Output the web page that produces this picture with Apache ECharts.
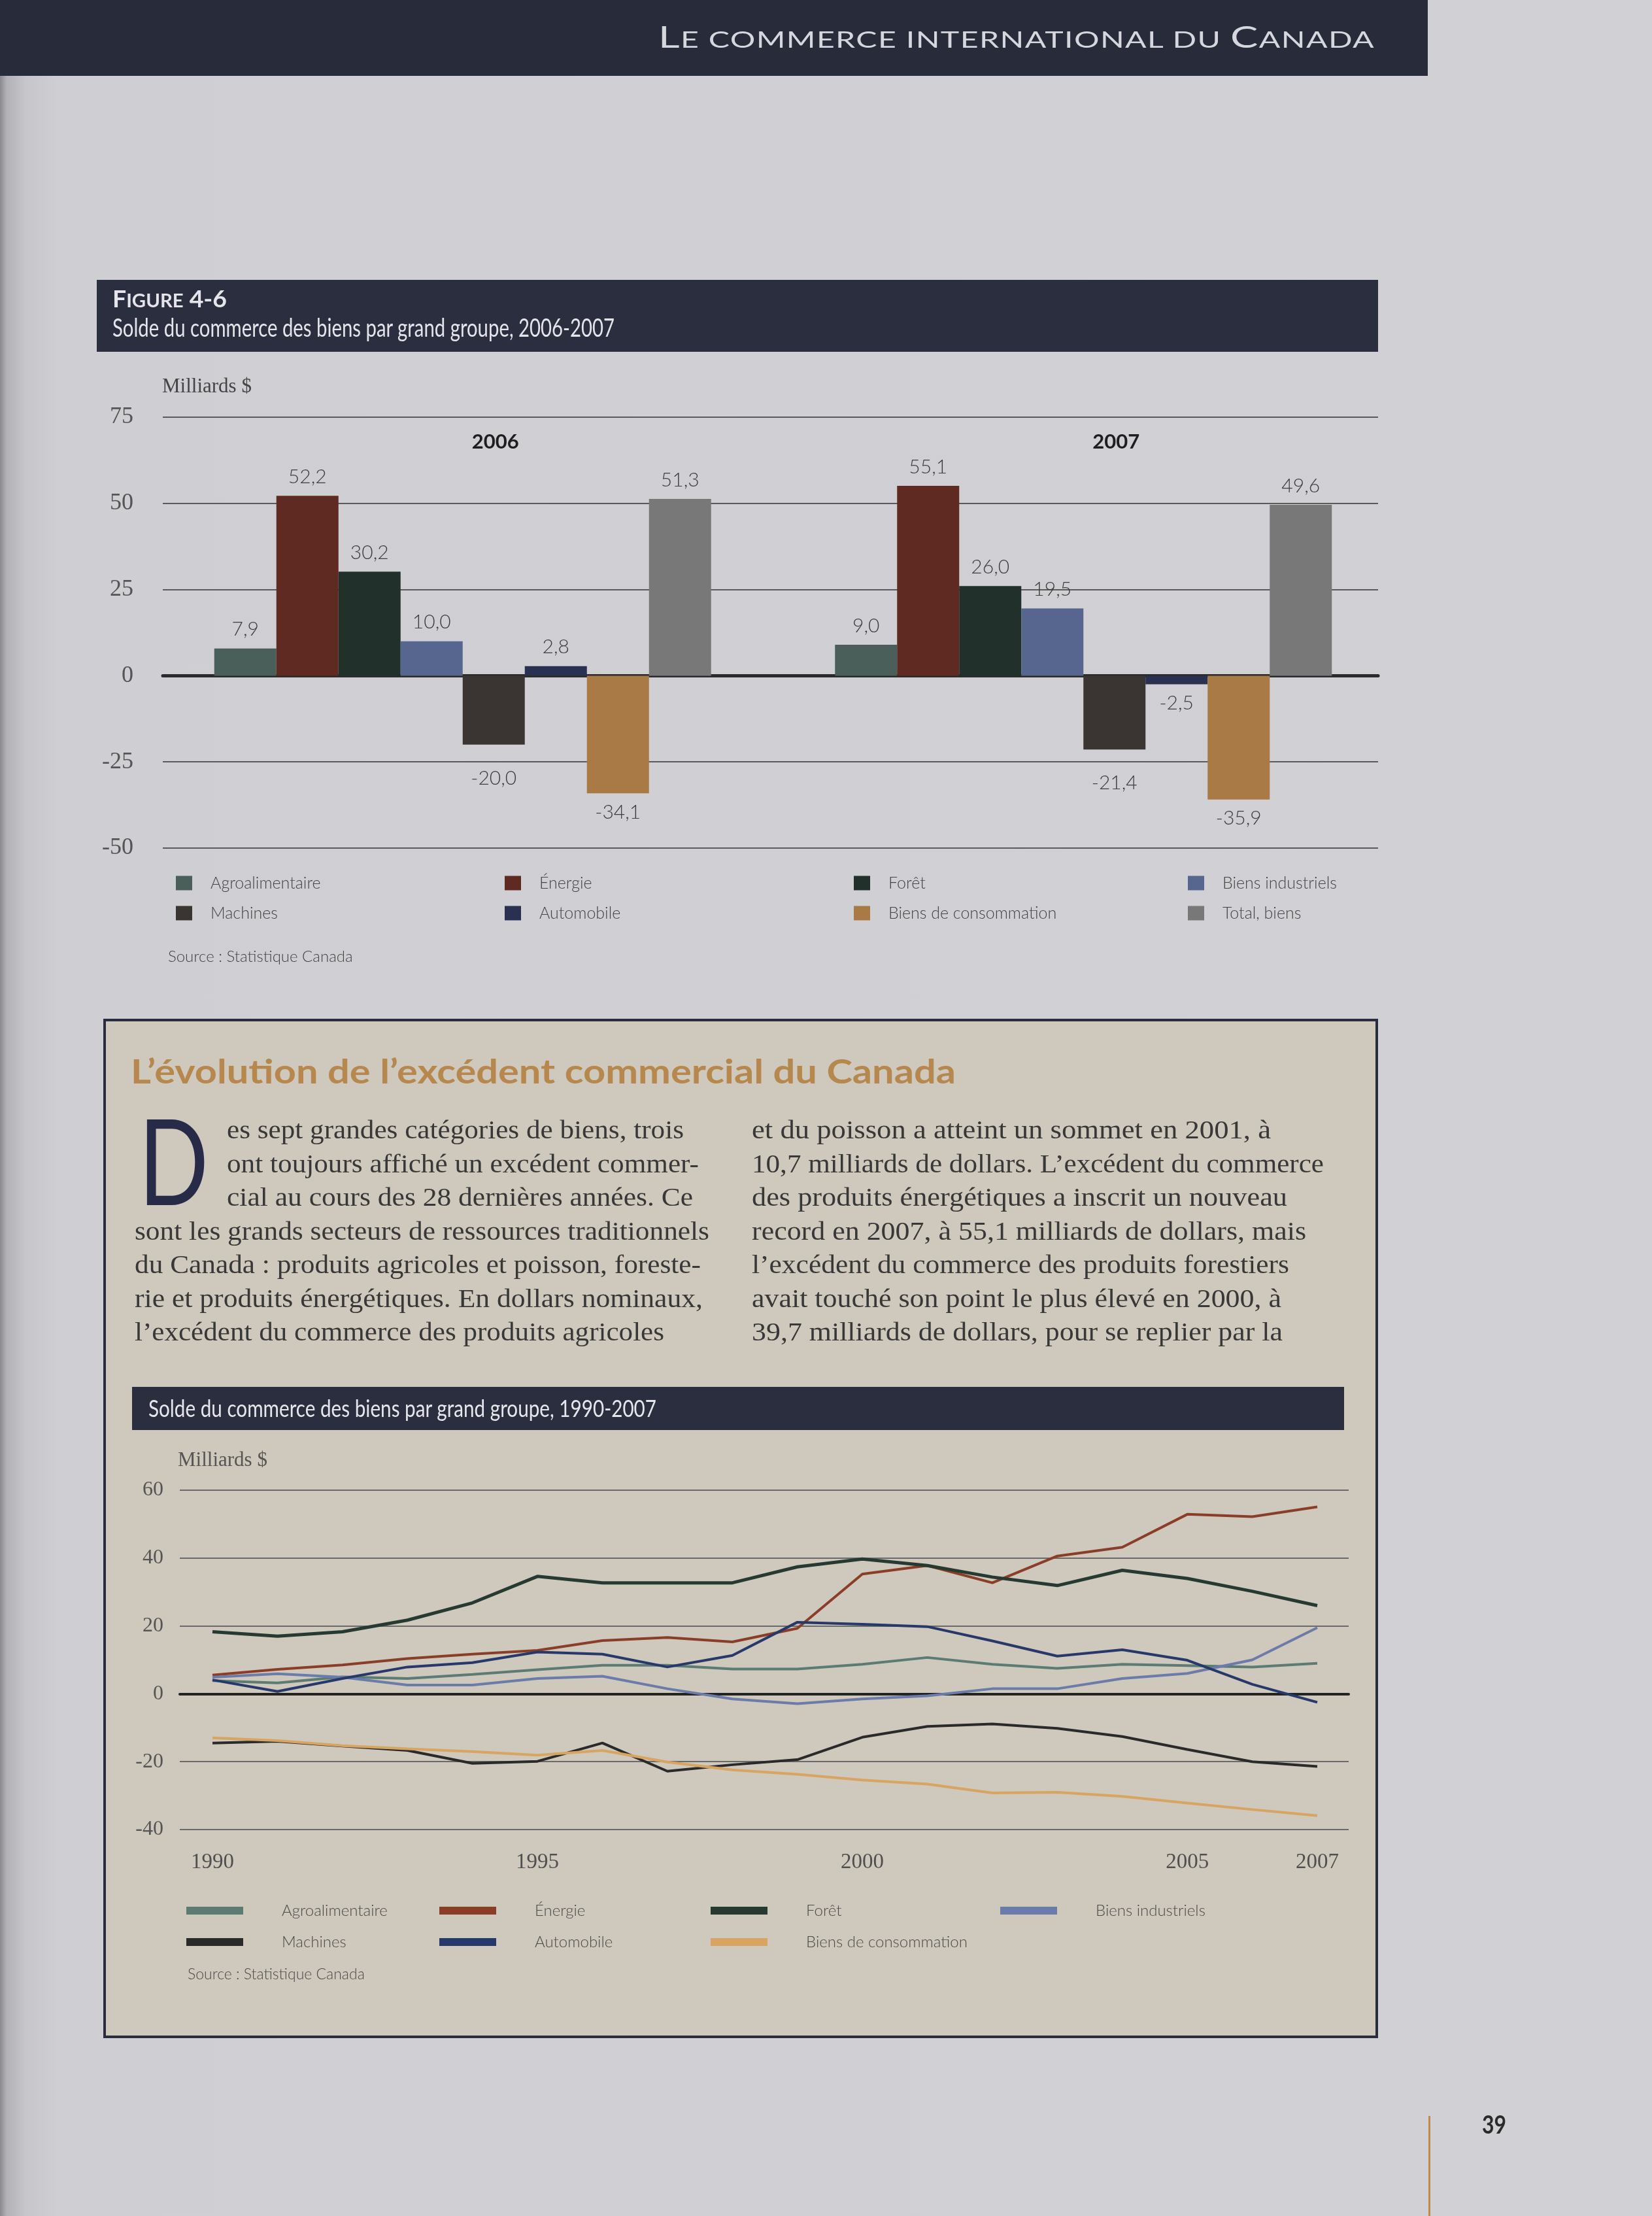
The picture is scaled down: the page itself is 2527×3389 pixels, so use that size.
<!DOCTYPE html>
<html><head><meta charset="utf-8">
<script src="https://cdn.jsdelivr.net/npm/echarts@6/dist/echarts.min.js"></script>
<style>
html,body{margin:0;padding:0;}
body{width:2527px;height:3389px;position:relative;overflow:hidden;
background:linear-gradient(to right,#8a8a8e 0px,#b2b2b6 10px,#c7c7cb 40px,#cfcfd3 90px,#d1d1d5 100%);}
.abs{position:absolute;}
</style></head><body>
<div class="abs" style="left:0;top:0;width:2184px;height:116px;background:#272b3a;"></div>
<div class="abs" style="left:148px;top:428px;width:1960px;height:110px;background:#2a2e3f;"></div>
<div class="abs" style="left:158px;top:1558px;width:1942px;height:1551px;border:4px solid #2a2d3f;background:#cfc8bc;"></div>
<div class="abs" style="left:202px;top:2121px;width:1854px;height:66px;background:#2a2e3f;"></div>
<div class="abs" style="left:2185px;top:3236px;width:3px;height:153px;background:#c08a48;"></div>
<div id="c1" class="abs" style="left:0;top:540px;width:2527px;height:960px;"></div>
<div id="c2" class="abs" style="left:0;top:2190px;width:2527px;height:920px;"></div>
<svg id="txt" class="abs" style="left:0;top:0" width="2527" height="3389" xmlns="http://www.w3.org/2000/svg"></svg>
<script>
// ---------- Données : Figure 4-6 ----------
const categories = ['2006', '2007'];
const groupes = ['Agroalimentaire', 'Énergie', 'Forêt', 'Biens industriels', 'Machines', 'Automobile', 'Biens de consommation', 'Total, biens'];
const solde2006 = [7.9, 52.2, 30.2, 10.0, -20.0, 2.8, -34.1, 51.3];
const solde2007 = [9.0, 55.1, 26.0, 19.5, -21.4, -2.5, -35.9, 49.6];
const ticksBarres = [-50, -25, 0, 25, 50, 75];

// ---------- Données : 1990-2007 ----------
const annees = ['1990','1991','1992','1993','1994','1995','1996','1997','1998','1999','2000','2001','2002','2003','2004','2005','2006','2007'];
const anneesAffichees = ['1990', '1995', '2000', '2005', '2007'];
const ticksLignes = [-40, -20, 0, 20, 40, 60];
const groupesLignes = ['Agroalimentaire', 'Énergie', 'Forêt', 'Biens industriels', 'Machines', 'Automobile', 'Biens de consommation'];
const agro        = [3.9, 3.2, 5.0, 4.5, 5.7, 7.1, 8.4, 8.4, 7.3, 7.3, 8.7, 10.7, 8.7, 7.5, 8.7, 8.3, 7.9, 9.0];
const energie     = [5.5, 7.2, 8.5, 10.4, 11.7, 12.8, 15.7, 16.6, 15.3, 19.3, 35.3, 37.8, 32.7, 40.6, 43.2, 52.9, 52.2, 55.1];
const foret       = [18.3, 17.0, 18.3, 21.7, 26.8, 34.6, 32.7, 32.7, 32.7, 37.4, 39.7, 37.8, 34.4, 31.9, 36.4, 34.0, 30.2, 26.0];
const biensInd    = [4.9, 5.9, 4.9, 2.6, 2.6, 4.5, 5.2, 1.5, -1.5, -2.9, -1.5, -0.6, 1.5, 1.5, 4.5, 6.0, 10.0, 19.5];
const machines    = [-14.5, -14.0, -15.4, -16.7, -20.5, -19.9, -14.5, -22.8, -20.9, -19.4, -12.8, -9.6, -8.9, -10.2, -12.6, -16.4, -20.0, -21.4];
const automobile  = [4.1, 0.7, 4.5, 7.9, 9.2, 12.3, 11.7, 7.9, 11.3, 21.1, 20.5, 19.8, 15.6, 11.1, 13.0, 9.9, 2.8, -2.5];
const consommation= [-13.0, -13.8, -15.3, -16.2, -17.0, -18.1, -16.7, -20.1, -22.4, -23.7, -25.4, -26.6, -29.2, -29.0, -30.2, -32.2, -34.1, -35.9];

// ---------- Textes de la page ----------
const texteGauche = [
  'es sept grandes catégories de biens, trois',
  'ont toujours affiché un excédent commer-',
  'cial au cours des 28 dernières années. Ce',
  'sont les grands secteurs de ressources traditionnels',
  'du Canada : produits agricoles et poisson, foreste-',
  'rie et produits énergétiques. En dollars nominaux,',
  'l\u2019excédent du commerce des produits agricoles'
];
const texteDroite = [
  'et du poisson a atteint un sommet en 2001, à',
  '10,7 milliards de dollars. L\u2019excédent du commerce',
  'des produits énergétiques a inscrit un nouveau',
  'record en 2007, à 55,1 milliards de dollars, mais',
  'l\u2019excédent du commerce des produits forestiers',
  'avait touché son point le plus élevé en 2000, à',
  '39,7 milliards de dollars, pour se replier par la'
];

// ---------- Styles ----------
const barColors = ['#4b5f5a', '#5f2a21', '#22302c', '#56668e', '#3a3532', '#2a3150', '#a97a46', '#787878'];
const lineColors = ['#5b7b73', '#8b3e27', '#263a31', '#6b7caa', '#2a2a2a', '#27386a', '#d7a462'];
const SERIF = 'Liberation Serif';
const SANS = 'Lato';

function fmt(v) { return v.toFixed(1).replace('.', ','); }

// ---------- SVG text ----------
const svg = document.getElementById('txt');
const NS = 'http://www.w3.org/2000/svg';
function svgText(parts, x, y, opts) {
  const t = document.createElementNS(NS, 'text');
  t.setAttribute('x', x); t.setAttribute('y', y);
  t.setAttribute('font-family', opts.family || SANS);
  t.setAttribute('font-weight', opts.weight || 'normal');
  t.setAttribute('fill', opts.fill || '#333');
  t.setAttribute('font-size', opts.size);
  if (opts.ls) t.setAttribute('letter-spacing', opts.ls);
  (Array.isArray(parts) ? parts : [[parts, opts.size]]).forEach(p => {
    const s = document.createElementNS(NS, 'tspan');
    s.setAttribute('font-size', p[1]);
    s.textContent = p[0];
    t.appendChild(s);
  });
  if (opts.w) { t.setAttribute('textLength', opts.w); t.setAttribute('lengthAdjust', 'spacingAndGlyphs'); }
  svg.appendChild(t);
}
// header
svgText([['L',46],['E COMMERCE INTERNATIONAL DU ',35],['C',46],['ANADA',35]], 1007, 73, {size:46, fill:'#d6d7de', w:1096, ls:1});
// figure title
svgText([['F',37],['IGURE',29],[' 4-6',37]], 172, 470, {size:37, weight:'bold', fill:'#e4e4ea', w:175});
svgText('Solde du commerce des biens par grand groupe, 2006-2007', 172, 515, {size:38, fill:'#e4e4ea', w:768});
// box title
svgText('L\u2019évolution de l\u2019excédent commercial du Canada', 200, 1657, {size:52, weight:'bold', fill:'#b7884e', w:1262});
// drop cap
svgText('D', 212, 1843, {size:182, fill:'#272b48', w:107});
const wG = [699, 722, 713, 879, 866, 869, 810];
const xG = [347, 347, 347, 206, 206, 206, 206];
const wD = [794, 875, 819, 848, 822, 810, 812];
texteGauche.forEach((s, i) => svgText(s, xG[i], 1741 + 51.5 * i, {size:40, family:SERIF, fill:'#383838', w:wG[i]}));
texteDroite.forEach((s, i) => svgText(s, 1150, 1741 + 51.5 * i, {size:40, family:SERIF, fill:'#383838', w:wD[i]}));
// line chart title
svgText('Solde du commerce des biens par grand groupe, 1990-2007', 227, 2167, {size:37, fill:'#e6e6ec', w:777});
// page number
svgText('39', 2267, 3263, {size:38, weight:'bold', fill:'#2a2a2a', w:37});

// ---------- Chart 1 : barres ----------
const c1 = echarts.init(document.getElementById('c1'));
const legPos1 = [[269,798],[772,798],[1306,798],[1817,798],[269,844],[772,844],[1306,844],[1817,844]];
const legText = {fontFamily:SANS, fontWeight:300, fontSize:25, color:'#444', padding:[0,0,0,23]};
const labelDistance = g => (g === 'Machines' ? 36 : 14);
c1.setOption({
  animation: false,
  title: [
    {text:'Milliards $', left:248, top:36, padding:0, textStyle:{fontFamily:SERIF, fontSize:31, fontWeight:'normal', color:'#444'}},
    {text:'Source : Statistique Canada', left:257, top:911, padding:0, textStyle:{fontFamily:SANS, fontWeight:300, fontSize:24, color:'#444'}}
  ],
  grid: [
    {left:249, top:98, width:1859, height:659},
    {left:233, top:98, width:1899, height:659}
  ],
  xAxis: [
    {gridIndex:0, type:'category', data:categories, axisLine:{show:true, onZero:true, lineStyle:{color:'#2b2b2b', width:5}}, axisTick:{show:false}, axisLabel:{show:false}, splitLine:{show:false}},
    {gridIndex:1, type:'category', data:categories, position:'top', axisLine:{show:false}, axisTick:{show:false},
     axisLabel:{inside:true, margin:22, padding:[0,0,0,100], fontFamily:SANS, fontWeight:'bold', fontSize:31, color:'#1e1e1e'}}
  ],
  yAxis: [
    {gridIndex:0, type:'value', min:ticksBarres[0], max:ticksBarres[ticksBarres.length-1], interval:ticksBarres[1]-ticksBarres[0],
     axisLine:{show:false}, axisTick:{show:false},
     axisLabel:{margin:45, fontFamily:SERIF, fontSize:36, color:'#555'},
     splitLine:{lineStyle:{color:'#5a5a5a', width:2}}},
    {gridIndex:1, type:'value', min:ticksBarres[0], max:ticksBarres[ticksBarres.length-1], interval:ticksBarres[1]-ticksBarres[0], show:false, splitLine:{show:false}}
  ],
  legend: groupes.map((g, i) => ({data:[g], left:legPos1[i][0], top:legPos1[i][1], padding:0, icon:'rect', itemWidth:25, itemHeight:22, selectedMode:false, textStyle:legText})),
  series: groupes.map((g, i) => ({
    name:g, type:'bar', xAxisIndex:1, yAxisIndex:1, barWidth:95, barGap:'0%',
    itemStyle:{color:barColors[i]},
    label:{show:true, distance:labelDistance(g), formatter:p => fmt(p.value), fontFamily:SANS, fontWeight:300, fontSize:30, color:'#3d3d3d'},
    data:[solde2006[i], solde2007[i]].map(v => ({value:v, label:{position: v < 0 ? 'bottom' : 'top'}}))
  }))
});

// ---------- Chart 2 : lignes ----------
const c2 = echarts.init(document.getElementById('c2'));
const lineData = [agro, energie, foret, biensInd, machines, automobile, consommation];
const legPos2 = [[285,720],[672,720],[1087,720],[1530,720],[285,768],[672,768],[1087,768]];
const legText2 = {fontFamily:SANS, fontWeight:300, fontSize:24, color:'#4a4a4a', padding:[0,0,0,54]};
c2.setOption({
  animation: false,
  title: [
    {text:'Milliards $', left:272, top:28, padding:0, textStyle:{fontFamily:SERIF, fontSize:31, fontWeight:'normal', color:'#555'}},
    {text:'Source : Statistique Canada', left:287, top:818, padding:0, textStyle:{fontFamily:SANS, fontWeight:300, fontSize:23, color:'#4a4a4a'}}
  ],
  grid: [
    {left:275, top:89, width:1788, height:519},
    {left:325, top:89, width:1690, height:519}
  ],
  xAxis: [
    {gridIndex:0, type:'category', data:annees, axisLine:{show:true, onZero:true, lineStyle:{color:'#232323', width:4}}, axisTick:{show:false}, axisLabel:{show:false}, splitLine:{show:false}},
    {gridIndex:1, type:'category', data:annees, boundaryGap:false, axisLine:{show:false}, axisTick:{show:false},
     axisLabel:{margin:34, interval:(idx, val) => anneesAffichees.includes(val), fontFamily:SERIF, fontSize:33, color:'#505050'}}
  ],
  yAxis: [
    {gridIndex:0, type:'value', min:ticksLignes[0], max:ticksLignes[ticksLignes.length-1], interval:ticksLignes[1]-ticksLignes[0],
     axisLine:{show:false}, axisTick:{show:false},
     axisLabel:{margin:25, fontFamily:SERIF, fontSize:32, color:'#555'},
     splitLine:{lineStyle:{color:'#6a6a6a', width:2}}},
    {gridIndex:1, type:'value', min:ticksLignes[0], max:ticksLignes[ticksLignes.length-1], interval:ticksLignes[1]-ticksLignes[0], show:false, splitLine:{show:false}}
  ],
  legend: groupesLignes.map((g, i) => ({data:[g], left:legPos2[i][0], top:legPos2[i][1], padding:0, icon:'rect', itemWidth:87, itemHeight:12, selectedMode:false, textStyle:legText2})),
  series: groupesLignes.map((g, i) => ({
    name:g, type:'line', xAxisIndex:1, yAxisIndex:1, data:lineData[i], showSymbol:false, symbol:'none',
    lineStyle:{width: g === 'Forêt' ? 5 : 4, color:lineColors[i]}, itemStyle:{color:lineColors[i]}
  }))
});
</script>
</body></html>
